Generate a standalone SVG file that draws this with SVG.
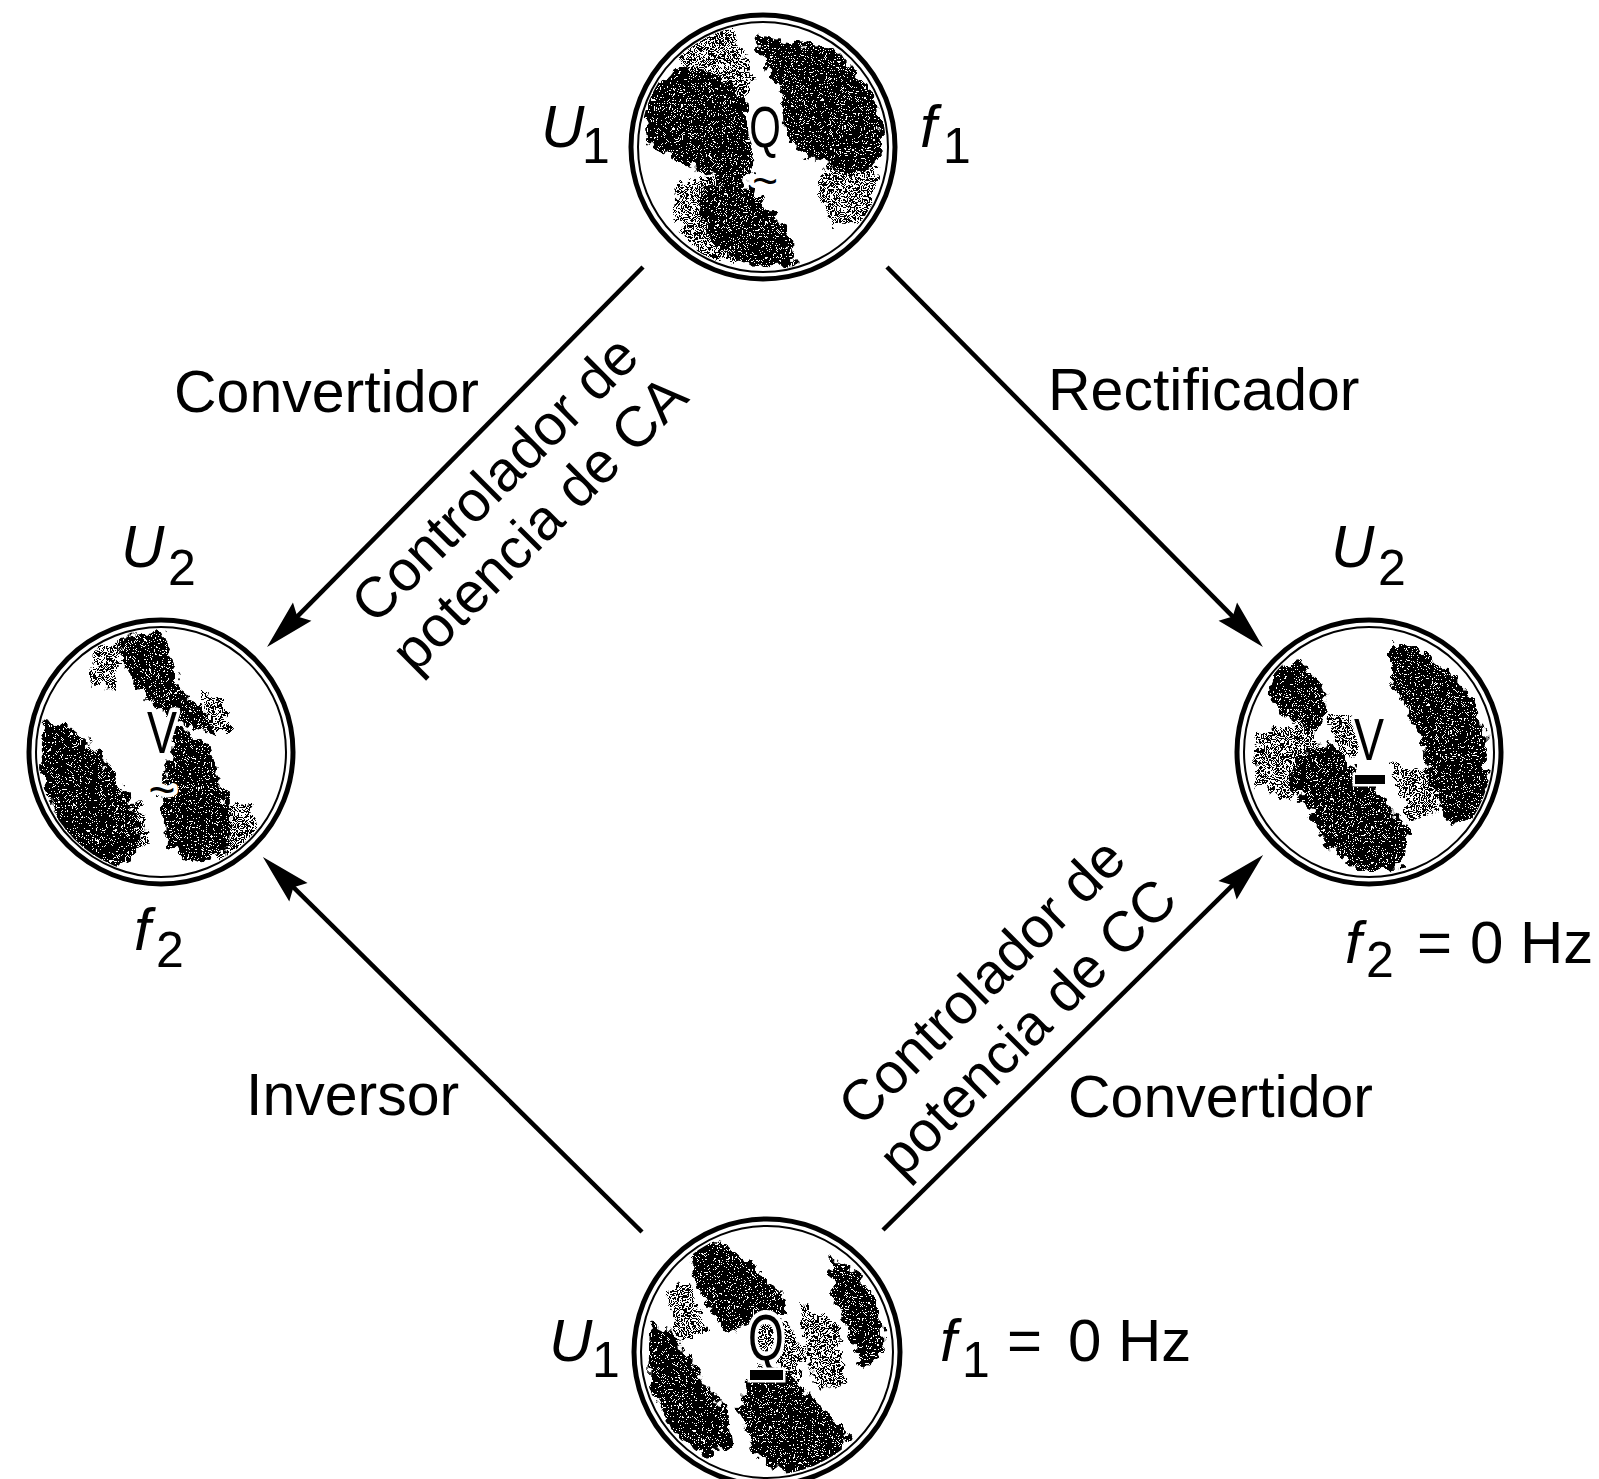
<svg xmlns="http://www.w3.org/2000/svg" width="1599" height="1479" viewBox="0 0 1599 1479">
<style>
.lbl{font-family:"Liberation Sans",Arial,sans-serif;font-size:59px;fill:#000}
.rot{font-family:"Liberation Sans",Arial,sans-serif;font-size:57px;fill:#000}
.var{font-family:"Liberation Sans",Arial,sans-serif;font-size:60px;fill:#000}
.it{font-style:italic}
.sub{font-size:50px;font-style:normal}
.sym{font-family:"Liberation Sans",Arial,sans-serif;fill:#000;stroke:#fff;stroke-width:9;paint-order:stroke;stroke-linejoin:round}
.bar{fill:#000;stroke:#fff;stroke-width:5;paint-order:stroke}
.rim{fill:#fff;stroke:#000;stroke-width:5}
.ring{fill:none;stroke:#000;stroke-width:2}
.dk{fill:url(#pd)}
.md{fill:url(#pm)}
.conn line{stroke:#000;stroke-width:4.5;fill:none;marker-end:url(#ah)}
</style>
<defs>
<marker id="ah" viewBox="-32 -15 54 30" refX="0" refY="0" markerWidth="54" markerHeight="30" markerUnits="userSpaceOnUse" orient="auto">
<path d="M20,0 L-30,-13 L-23,0 L-30,13 Z" fill="#000"/>
</marker>
<pattern id="pd" width="4" height="4" patternUnits="userSpaceOnUse"><rect width="4" height="4" fill="#000"/><rect x="1" y="1" width="1" height="1" fill="#fff"/><rect x="3" y="3" width="1" height="1" fill="#fff"/></pattern>
<pattern id="pm" width="4" height="4" patternUnits="userSpaceOnUse"><rect width="4" height="4" fill="#fff"/><rect width="2" height="2" fill="#000"/><rect x="2" y="2" width="2" height="2" fill="#000"/></pattern>
<filter id="rough" x="-20%" y="-20%" width="140%" height="140%">
<feTurbulence type="fractalNoise" baseFrequency="0.11" numOctaves="2" seed="3"/>
<feDisplacementMap in="SourceGraphic" scale="18" xChannelSelector="R" yChannelSelector="G"/>
</filter>
<clipPath id="cc"><circle cx="0" cy="0" r="123"/></clipPath>
</defs>
<rect width="1599" height="1479" fill="#fff"/>

<g id="connectors" class="conn">
<line x1="643" y1="267" x2="281.1" y2="632.9"/>
<line x1="887" y1="267" x2="1248.9" y2="632.9"/>
<line x1="642" y1="1232" x2="277.1" y2="871.1"/>
<line x1="883" y1="1230" x2="1248.9" y2="869.1"/>
</g>

<g id="node-top">
<g transform="translate(763,147)">
<circle class="rim" r="132"/>
<circle class="ring" r="125"/>
<g clip-path="url(#cc)"><g filter="url(#rough)">
<path class="md" d="M-95,-110 L-30,-118 L-10,-70 L-20,-40 L-70,-60 Z"/>
<path class="md" d="M70,10 L115,20 L105,75 L70,80 L55,40 Z"/>
<path class="md" d="M-85,35 L-40,30 L-10,60 L-20,115 L-60,110 L-90,70 Z"/>
<path class="dk" d="M-112,-60 L-76,-82 L-43,-70 L-16,-47 L-13,-7 L-10,26 L-30,42 L-56,28 L-86,12 L-114,-2 L-118,-35 Z"/>
<path class="dk" d="M-8,-112 L74,-97 L117,-47 L120,13 L90,28 L50,12 L24,-7 L20,-47 L4,-80 Z"/>
<path class="dk" d="M-60,38 L-10,40 L24,86 L34,118 L-10,120 L-50,98 L-63,60 Z"/>
</g></g>
<text class="sym" transform="translate(2,0) scale(0.7,1)" font-size="58" text-anchor="middle">Q</text>
<text class="sym" x="2" y="49" font-size="44" text-anchor="middle">~</text>
</g>
<text class="var" y="147"><tspan class="it" x="541">U</tspan><tspan class="sub" x="582" y="163">1</tspan></text>
<text class="var" y="147"><tspan class="it" x="920">f</tspan><tspan class="sub" x="943" y="163">1</tspan></text>
</g>

<g id="node-left">
<g transform="translate(161,752)">
<circle class="rim" r="132"/>
<circle class="ring" r="125"/>
<g clip-path="url(#cc)"><g filter="url(#rough)">
<path class="md" d="M-65,-105 L-40,-110 L-45,-60 L-70,-70 Z"/>
<path class="md" d="M40,-60 L60,-50 L70,-20 L50,-20 Z"/>
<path class="md" d="M20,60 L90,50 L100,90 L60,110 Z"/>
<path class="md" d="M-50,60 L-20,50 L-10,90 L-40,110 Z"/>
<path class="dk" d="M-35,-118 L0,-120 L12,-90 L22,-60 L45,-40 L55,-15 L20,-28 L-12,-50 L-30,-72 L-42,-98 Z"/>
<path class="dk" d="M-118,-32 L-92,-25 L-62,0 L-42,30 L-22,62 L-26,100 L-42,116 L-72,106 L-102,72 L-120,20 Z"/>
<path class="dk" d="M15,-28 L45,-8 L60,30 L72,72 L62,102 L32,112 L6,92 L0,42 L8,10 Z"/>
</g></g>
<text class="sym" transform="translate(1,1) scale(0.75,1)" font-size="60" text-anchor="middle">V</text>
<text class="sym" x="1" y="54" font-size="46" text-anchor="middle">~</text>
</g>
<text class="var" y="567"><tspan class="it" x="121">U</tspan><tspan class="sub" x="168" y="585">2</tspan></text>
<text class="var" y="950"><tspan class="it" x="134">f</tspan><tspan class="sub" x="156" y="967">2</tspan></text>
</g>

<g id="node-right">
<g transform="translate(1369,752)">
<circle class="rim" r="132"/>
<circle class="ring" r="125"/>
<g clip-path="url(#cc)"><g filter="url(#rough)">
<path class="md" d="M-110,-20 L-60,-30 L-40,10 L-80,50 L-115,30 Z"/>
<path class="md" d="M-40,-40 L-15,-35 L-10,0 L-30,10 Z"/>
<path class="md" d="M20,10 L60,20 L70,60 L40,70 Z"/>
<path class="dk" d="M22,-110 L52,-100 L92,-70 L116,-20 L119,30 L110,66 L80,72 L64,40 L54,0 L40,-40 L22,-70 Z"/>
<path class="dk" d="M-70,2 L-40,-8 L-10,22 L20,52 L42,82 L32,116 L-10,120 L-42,92 L-62,52 L-82,30 Z"/>
<path class="dk" d="M-95,-85 L-70,-92 L-50,-70 L-40,-40 L-55,-20 L-85,-35 L-100,-60 Z"/>
</g></g>
<text class="sym" transform="translate(0,8) scale(0.75,1)" font-size="60" text-anchor="middle">V</text>
<rect class="bar" x="-14" y="23" width="30" height="9"/>
</g>
<text class="var" y="567"><tspan class="it" x="1331">U</tspan><tspan class="sub" x="1378" y="585">2</tspan></text>
<text class="var" y="963"><tspan class="it" x="1345">f</tspan><tspan class="sub" x="1366" y="977">2</tspan><tspan x="1417" y="963">=</tspan><tspan x="1470" y="963">0 Hz</tspan></text>
</g>

<g id="node-bottom">
<g transform="translate(767,1352)">
<circle class="rim" r="133"/>
<circle class="ring" r="126"/>
<g clip-path="url(#cc)"><g filter="url(#rough)">
<path class="md" d="M-20,-40 L20,-30 L40,0 L30,30 L-10,20 Z"/>
<path class="md" d="M30,-50 L70,-30 L80,30 L50,40 Z"/>
<path class="md" d="M-100,-60 L-80,-70 L-60,-20 L-90,-10 Z"/>
<path class="dk" d="M-76,-100 L-50,-112 L-20,-92 L10,-62 L22,-40 L-10,-30 L-40,-20 L-56,-42 L-72,-72 Z"/>
<path class="dk" d="M62,-95 L92,-80 L114,-40 L117,0 L96,16 L80,-20 L66,-60 Z"/>
<path class="dk" d="M-116,-30 L-96,-20 L-70,20 L-40,60 L-35,92 L-60,104 L-96,78 L-118,30 Z"/>
<path class="dk" d="M-22,30 L22,20 L52,52 L82,82 L72,112 L20,122 L-12,102 L-27,62 Z"/>
</g></g>
<text class="sym" transform="translate(-1,8) scale(0.72,1)" font-size="64" text-anchor="middle">Q</text>
<rect class="bar" x="-17" y="18" width="33" height="10"/>
</g>
<text class="var" y="1361"><tspan class="it" x="549">U</tspan><tspan class="sub" x="592" y="1377">1</tspan></text>
<text class="var" y="1361"><tspan class="it" x="940">f</tspan><tspan class="sub" x="962" y="1377">1</tspan><tspan x="1007" y="1361">=</tspan><tspan x="1068" y="1361">0 Hz</tspan></text>
</g>

<g id="labels">
<text class="lbl" x="174" y="412">Convertidor</text>
<text class="lbl" x="1048" y="410">Rectificador</text>
<text class="lbl" x="246" y="1115">Inversor</text>
<text class="lbl" x="1068" y="1117">Convertidor</text>
<g transform="translate(463.8,448.2) rotate(-45)">
<text class="rot" text-anchor="middle"><tspan x="0" y="63">Controlador de</tspan><tspan x="0" y="126">potencia de CA</tspan></text>
</g>
<g transform="translate(1057.5,1057.5) rotate(-45)">
<text class="rot" text-anchor="middle"><tspan x="0" y="-88">Controlador de</tspan><tspan x="0" y="-23">potencia de CC</tspan></text>
</g>
</g>
</svg>
